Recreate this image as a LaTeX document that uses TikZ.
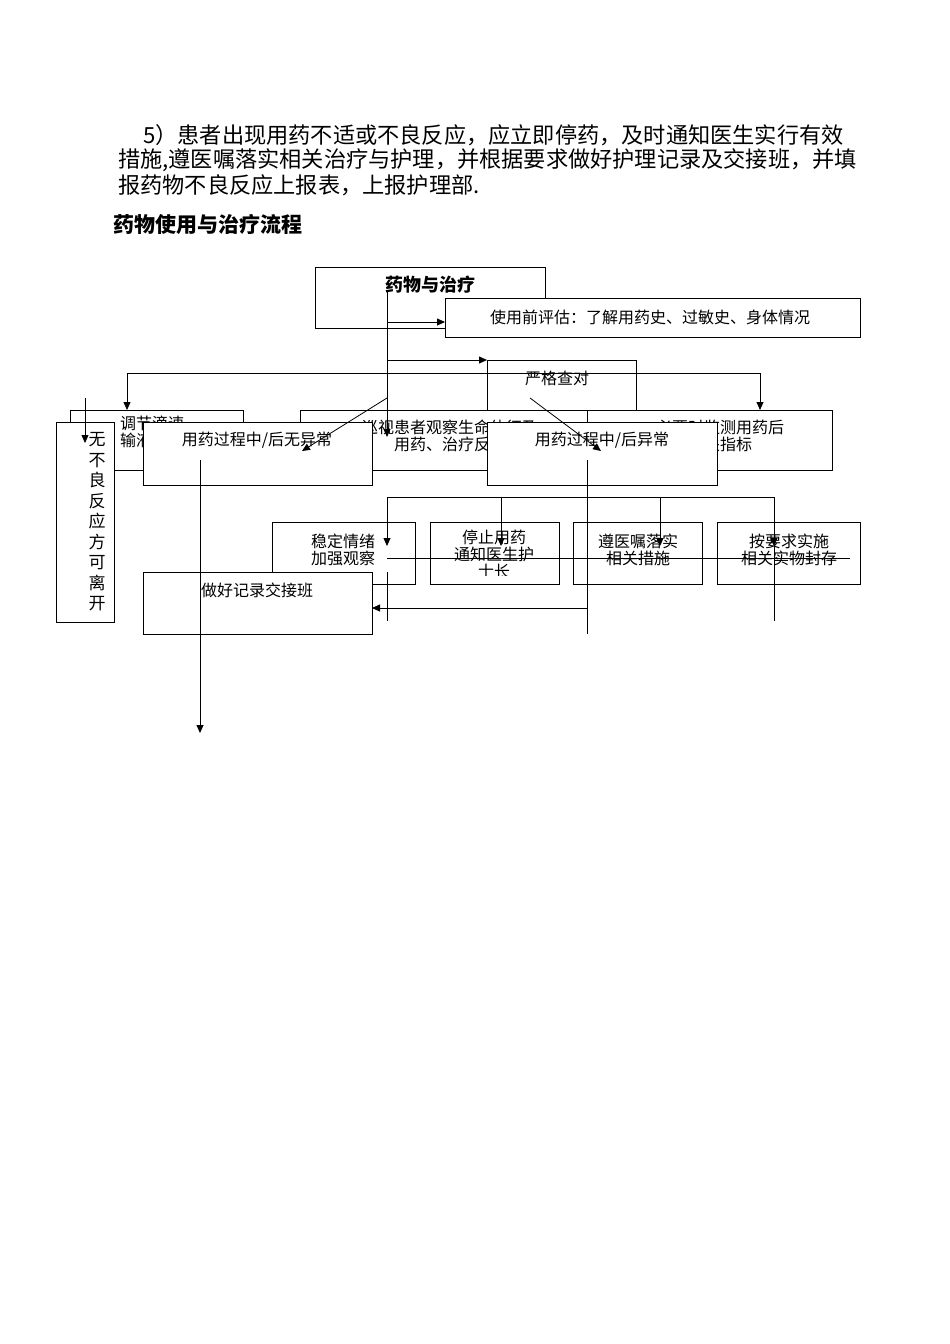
\documentclass[tikz,border=0pt]{standalone}
\usepackage{fontspec}
\setmainfont{Liberation Serif}
\newfontfamily\cjk{Noto Sans CJK SC}
\usetikzlibrary{arrows.meta}
\begin{document}
\begin{tikzpicture}[x=1pt,y=-1pt,
  bx/.style={draw,line width=0.8pt,fill=white},
  tx/.style={font=\cjk\fontsize{16}{17}\selectfont,align=center,inner sep=0pt},
  pa/.style={anchor=west,font=\cjk\fontsize{22.2}{24}\selectfont,inner sep=0pt},
  ln/.style={line width=0.8pt},
  ar/.style={line width=0.8pt,-{Triangle[length=8pt,width=7pt]}}]
\useasboundingbox (0,0) rectangle (950,1344);
\node[pa] (p1) at (143,135) {5）患者出现用药不适或不良反应，应立即停药，及时通知医生实行有效};
\node[pa] (p2) at (118,160) {措施,遵医嘱落实相关治疗与护理，并根据要求做好护理记录及交接班，并填};
\node[pa] (p3) at (118,185) {报药物不良反应上报表，上报护理部.};
\node[anchor=west,font=\cjk\bfseries\fontsize{21}{23}\selectfont,inner sep=0pt] (ttl) at (113,225) {药物使用与治疗流程};
% top box
\draw[bx] (315,267) rectangle (545,328);
\node[tx,font=\cjk\bfseries\fontsize{18}{19}\selectfont] (top) at (430,285) {药物与治疗};
\draw[bx] (445,298) rectangle (860,337);
\node[tx] (eval) at (650,317) {使用前评估：了解用药史、过敏史、身体情况};
\draw[bx] (487,360) rectangle (636,410);
\node[tx] (check) at (557,378) {严格查对};
% back row
\draw[bx] (70,410) rectangle (243,470);
\node[tx,anchor=north west] (ba) at (120,416) {调节滴速\\输液观察};
\draw[bx] (300,410) rectangle (615,470);
\node[tx] (bb) at (450,436) {巡视患者观察生命体征及\\用药、治疗反应};
\draw[bx] (587,410) rectangle (832,470);
\node[tx] (bc) at (720,436) {必要时监测用药后\\相关指标};
% connectors upper
\coordinate (t0) at (387,290);
\coordinate (t1) at (387,410);
\draw[ln] (t0) -- (t1);
\draw[ar] (387,322) -- (445,322);
\draw[ar] (387,360) -- (487,360);
\draw[ln] (127,373) -- (760,373);
\draw[ar] (127,373) -- (127,410);
\draw[ar] (760,373) -- (760,410);
% front boxes
\draw[bx] (56,422) rectangle (114,622);
\node[tx,font=\cjk\fontsize{17}{20.5}\selectfont] (nf) at (97,522) {无\\不\\良\\反\\应\\方\\可\\离\\开};
\draw[bx] (143,422) rectangle (372,485);
\node[tx] (ok) at (257,440) {用药过程中/后无异常};
\draw[bx] (487,422) rectangle (717,485);
\node[tx] (bad) at (602,440) {用药过程中/后异常};
\draw[ar] (387,398) -- (387,437);
\draw[ar] (387,398) -- (302,451);
\draw[ar] (530,398) -- (601,451);
\draw[ar] (85,398) -- (85,443);
% lower boxes
\draw[bx] (272,522) rectangle (415,584);
\node[tx] (s1) at (343,550) {稳定情绪\\加强观察};
\draw[bx] (430,522) rectangle (559,584);
\node[tx,anchor=north] (s2) at (494,530) {停止用药\\通知医生护\\士长};
\fill[white] (431,576) rectangle (558,600);
\draw[bx,fill=none] (430,522) rectangle (559,584);
\draw[bx] (573,522) rectangle (702,584);
\node[tx] (s3) at (638,550) {遵医嘱落实\\相关措施};
\draw[bx] (717,522) rectangle (860,584);
\node[tx] (s4) at (789,550) {按要求实施\\相关实物封存};
\draw[bx] (143,572) rectangle (372,634);
\node[tx] (rec) at (257,590) {做好记录交接班};
\draw[ln] (387,497) -- (774,497);
\draw[ar] (387,497) -- (387,546);
\draw[ar] (501,497) -- (501,546);
\draw[ar] (660,497) -- (660,546);
\draw[ar] (774,497) -- (774,546);
\draw[ln] (387,558) -- (850,558);
\draw[ln] (387,572) -- (387,621);
\draw[ln] (774,546) -- (774,621);
\draw[ln] (587,460) -- (587,634);
\draw[ar] (587,608) -- (372,608);
\draw[ar] (200,460) -- (200,733);
\end{tikzpicture}
\end{document}
